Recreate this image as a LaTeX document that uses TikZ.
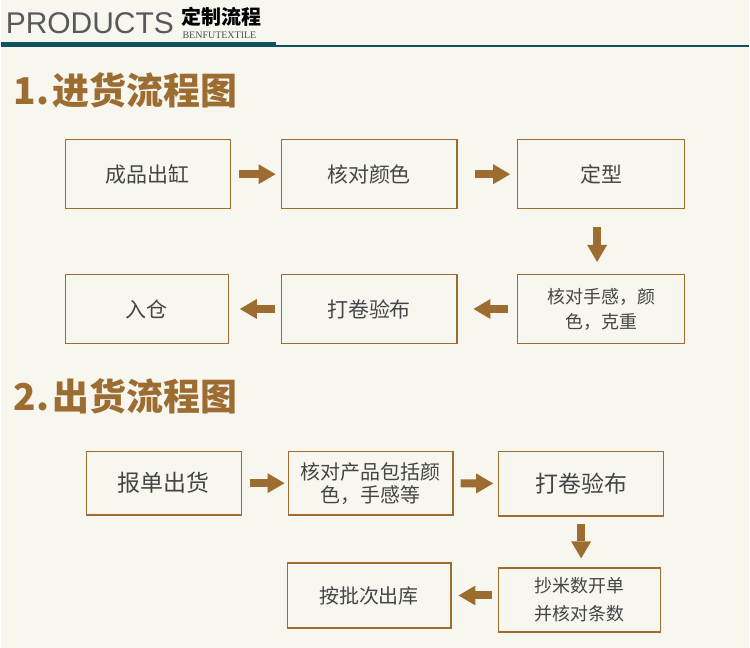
\documentclass[tikz,border=0pt]{standalone}
\usepackage{fontspec}
\newfontfamily\cjk{Noto Sans CJK SC}
\newfontfamily\prodfont{Liberation Sans}
\newfontfamily\enserif{Liberation Serif}
\usetikzlibrary{arrows.meta}
\definecolor{bgcream}{HTML}{F7F6EF}
\definecolor{flowbrown}{HTML}{9C6C31}
\definecolor{headteal}{HTML}{0E5360}
\definecolor{boxtext}{HTML}{454545}

\begin{document}
\begin{tikzpicture}[x=1pt, y=-1pt,
		box/.style = {draw=flowbrown, line width=1.3pt, minimum width=#1, minimum height=69pt, inner sep=2pt, align=center, text=boxtext, font=\cjk\fontsize{21}{24}\selectfont},
		box/.default = 165pt,
		lowbox/.style = {box=#1, minimum height=64pt},
		title/.style = {anchor=base west, inner sep=0pt, text=flowbrown, font=\cjk\bfseries\fontsize{37}{40}\selectfont},
		arr/.style = {draw=flowbrown, line width=8pt, -{Triangle[length=17pt, width=20pt, line width=0pt]}}
	]
	\fill[bgcream] (0,0) rectangle (750,649);

	\node[anchor=base west, inner sep=0pt, text=black!65, font=\prodfont\fontsize{30}{32}\selectfont] (prod) at (5,34) {PRODUCTS};
	\node[inner sep=0pt, text=black, font=\cjk\bfseries\fontsize{20}{22}\selectfont] (dzlc) at (221,16.5) {定制流程};
	\node[anchor=base west, inner sep=0pt, text=black!70, font=\enserif\fontsize{10}{11}\selectfont] (benfu) at (182,38.5) {BENFUTEXTILE};
	\draw[headteal, line width=1.3pt] (0,46) -- (750,46);
	\fill[headteal] (0,42.5) rectangle (276,46.5);

	\node[title] (t1) at (13,105) {1.\hspace{3pt}进货流程图};
	\node[title] (t2) at (13,411) {2.\hspace{3pt}出货流程图};

	\node[box=165pt] (vat)   at (147.5,174.5) {成品出缸};
	\node[box=176pt] (color) at (369,174.5)   {核对颜色};
	\node[box=167pt] (set)   at (601.5,174.5) {定型};
	\node[box=167pt, font=\cjk\fontsize{18}{25}\selectfont] (feel) at (601.5,309.5) {核对手感，颜\\色，克重};
	\node[box=176pt] (roll)  at (369,309.5)   {打卷验布};
	\node[box=163pt] (store) at (146.5,309.5) {入仓};

	\node[lowbox=155pt, font=\cjk\fontsize{23}{26}\selectfont] (order) at (163.5,484) {报单出货};
	\node[lowbox=165pt, font=\cjk\fontsize{20}{23}\selectfont] (check) at (370.5,484) {核对产品包括颜\\色，手感等};
	\node[lowbox=165pt, minimum height=65pt, font=\cjk\fontsize{23}{26}\selectfont] (rollb) at (581.5,484.5) {打卷验布};
	\node[lowbox=162pt, font=\cjk\fontsize{18}{28}\selectfont] (count) at (580,601) {抄米数开单\\并核对条数};
	\node[lowbox=164pt, minimum height=65pt, font=\cjk\fontsize{20}{23}\selectfont] (ship) at (369,596.5) {按批次出库};

	\draw[arr, shorten <=8pt, shorten >=5pt] (vat) -- (color);
	\draw[arr, shorten <=18pt, shorten >=7pt] (color) -- (set);
	\draw[arr, shorten <=18pt, shorten >=12pt] ([xshift=-4pt]set.south) -- ([xshift=-4pt]feel.north);
	\draw[arr, shorten <=9pt, shorten >=16pt] (feel) -- (roll);
	\draw[arr, shorten <=6pt, shorten >=11pt] (roll) -- (store);

	\draw[arr, shorten <=8pt, shorten >=3pt] (order) -- (check);
	\draw[arr, shorten <=7pt, shorten >=5pt] (check) -- (rollb);
	\draw[arr, shorten <=7pt, shorten >=9pt] (rollb) -- (rollb |- count.north);
	\draw[arr, shorten <=6pt, shorten >=7pt] (count.west |- ship.east) -- (ship.east);
\end{tikzpicture}
\end{document}
